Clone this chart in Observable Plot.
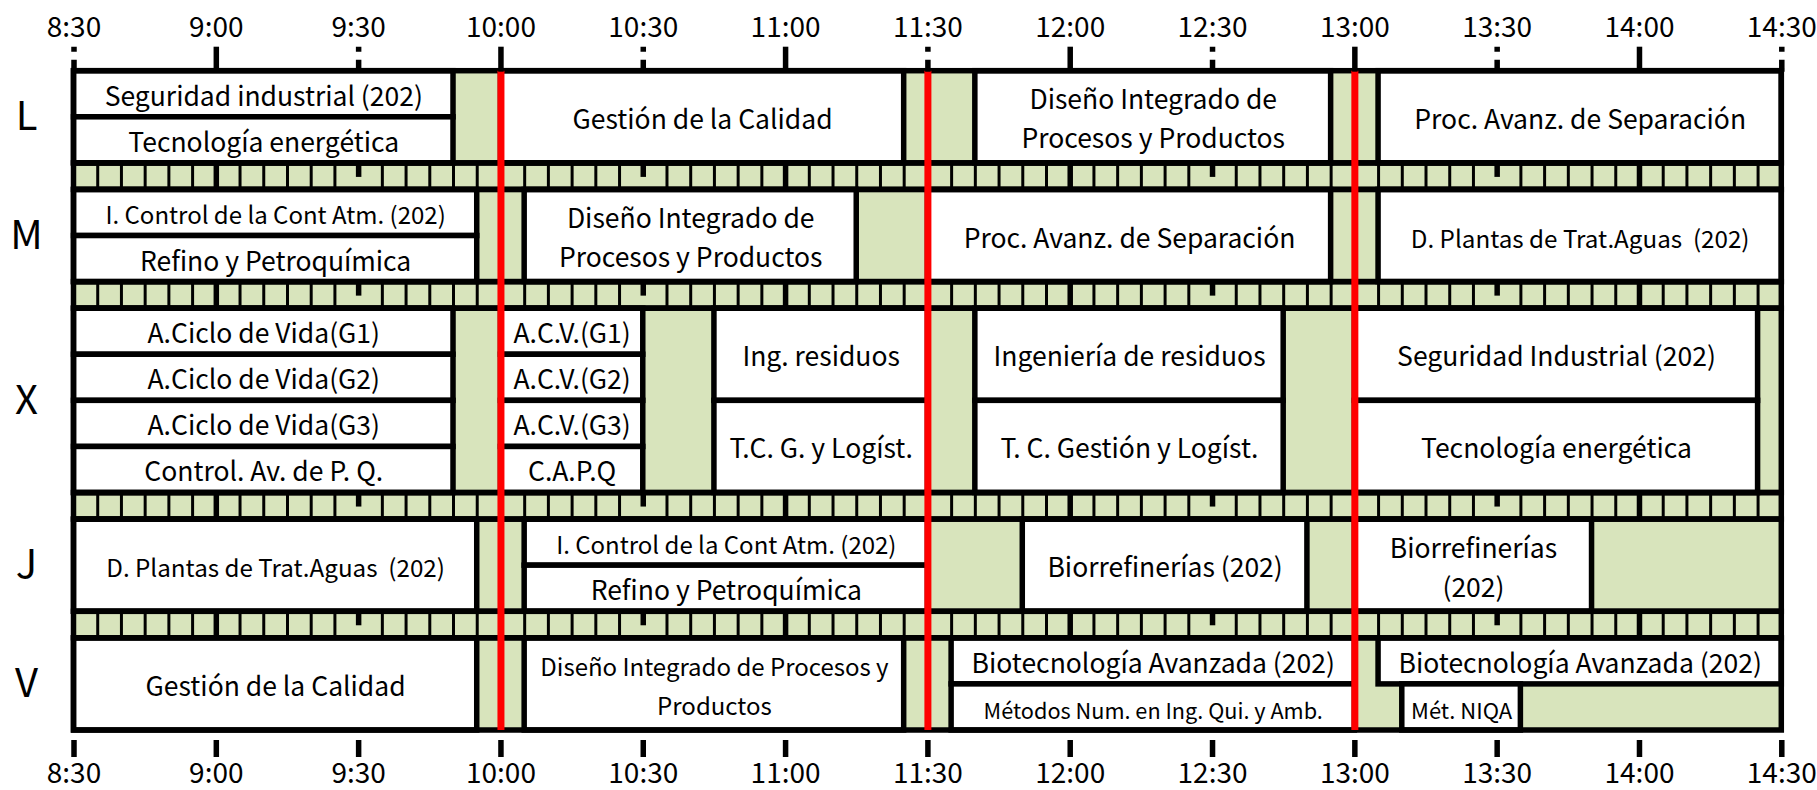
<!DOCTYPE html>
<html><head><meta charset="utf-8">
<script src="https://cdn.jsdelivr.net/npm/d3@7"></script>
<script src="https://cdn.jsdelivr.net/npm/@observablehq/plot@0.6"></script>
<style>
html,body{margin:0;padding:0;background:#fff;}
</style></head><body><div id="chart"></div>
<script>
// ---- data ----
const days = ["L", "M", "X", "J", "V"];
const daySlots = [2, 2, 4, 2, 2];
const tickTimes = ["8:30","9:00","9:30","10:00","10:30","11:00","11:30","12:00","12:30","13:00","13:30","14:00","14:30"];
const breakLines = ["10:00", "11:30", "13:00"];
// [start, end, first slot, slot count, label]
const lunes = [
  ["8:30", "9:50", 0, 1, "Seguridad industrial (202)"],
  ["8:30", "9:50", 1, 1, "Tecnología energética"],
  ["10:00", "11:25", 0, 2, "Gestión de la Calidad"],
  ["11:40", "12:55", 0, 2, "Diseño Integrado de\nProcesos y Productos"],
  ["13:05", "14:30", 0, 2, "Proc. Avanz. de Separación"]
];
const martes = [
  ["8:30", "9:55", 0, 1, "I. Control de la Cont Atm. (202)"],
  ["8:30", "9:55", 1, 1, "Refino y Petroquímica"],
  ["10:05", "11:15", 0, 2, "Diseño Integrado de\nProcesos y Productos"],
  ["11:30", "12:55", 0, 2, "Proc. Avanz. de Separación"],
  ["13:05", "14:30", 0, 2, "D. Plantas de Trat.Aguas  (202)"]
];
const miercoles = [
  ["8:30", "9:50", 0, 1, "A.Ciclo de Vida(G1)"],
  ["8:30", "9:50", 1, 1, "A.Ciclo de Vida(G2)"],
  ["8:30", "9:50", 2, 1, "A.Ciclo de Vida(G3)"],
  ["8:30", "9:50", 3, 1, "Control. Av. de P. Q."],
  ["10:00", "10:30", 0, 1, "A.C.V.(G1)"],
  ["10:00", "10:30", 1, 1, "A.C.V.(G2)"],
  ["10:00", "10:30", 2, 1, "A.C.V.(G3)"],
  ["10:00", "10:30", 3, 1, "C.A.P.Q"],
  ["10:45", "11:30", 0, 2, "Ing. residuos"],
  ["10:45", "11:30", 2, 2, "T.C. G. y Logíst."],
  ["11:40", "12:45", 0, 2, "Ingeniería de residuos"],
  ["11:40", "12:45", 2, 2, "T. C. Gestión y Logíst."],
  ["13:00", "14:25", 0, 2, "Seguridad Industrial (202)"],
  ["13:00", "14:25", 2, 2, "Tecnología energética"]
];
const jueves = [
  ["8:30", "9:55", 0, 2, "D. Plantas de Trat.Aguas  (202)"],
  ["10:05", "11:30", 0, 1, "I. Control de la Cont Atm. (202)"],
  ["10:05", "11:30", 1, 1, "Refino y Petroquímica"],
  ["11:50", "12:50", 0, 2, "Biorrefinerías (202)"],
  ["13:00", "13:50", 0, 2, "Biorrefinerías\n(202)"]
];
const viernes = [
  ["8:30", "9:55", 0, 2, "Gestión de la Calidad"],
  ["10:05", "11:25", 0, 2, "Diseño Integrado de Procesos y\nProductos"],
  ["11:35", "13:00", 0, 1, "Biotecnología Avanzada (202)"],
  ["11:35", "13:00", 1, 1, "Métodos Num. en Ing. Qui. y Amb."],
  ["13:05", "14:30", 0, 1, "Biotecnología Avanzada (202)"],
  ["13:10", "13:35", 1, 1, "Mét. NIQA"]
];
const schedule = [lunes, martes, miercoles, jueves, viernes];

// ---- styling / layout ----
const GREEN = "#d8e4bc";
const BAND = 0.575;           // height of the break band, in slot units
const LW = 5.5;               // border width
const labelSize = 26.5;
const LINE_PX = 39;           // distance between the two lines of a wrapped label
const labelSizes = {
  "I. Control de la Cont Atm. (202)": 24,
  "D. Plantas de Trat.Aguas  (202)": 24.2,
  "Diseño Integrado de Procesos y\nProductos": 24,
  "Métodos Num. en Ing. Qui. y Amb.": 21.7,
  "Mét. NIQA": 22
};

const toMin = s => { const [h, m] = s.split(":").map(Number); return h * 60 + m; };
const fmtMin = m => `${Math.floor(m / 60)}:${String(m % 60).padStart(2, "0")}`;
const tMin = toMin(tickTimes[0]), tMax = toMin(tickTimes[tickTimes.length - 1]);

const yOff = []; let acc = 0;
days.forEach((d, i) => { yOff.push(acc); acc += daySlots[i] + (i < days.length - 1 ? BAND : 0); });
const yMax = acc;

const dayRows = days.map((d, i) => ({day: d, x1: tMin, x2: tMax, y1: yOff[i], y2: yOff[i] + daySlots[i]}));
const bands = days.slice(0, -1).map((d, i) => ({x1: tMin, x2: tMax, y1: yOff[i] + daySlots[i], y2: yOff[i + 1]}));

const boxes = schedule.flatMap((rows, i) => rows.map(([s, e, k, n, label]) => ({
  x1: toMin(s), x2: toMin(e), y1: yOff[i] + k, y2: yOff[i] + k + n, label,
  size: labelSizes[label] ?? labelSize
})));

const bandLines = bands.flatMap(b => d3.range(tMin + 5, tMax, 5).map(m => ({
  m, y1: b.y1, y2: b.y2, kind: m % 60 === 0 ? "hour" : m % 30 === 0 ? "half" : "five"
})));

const ticks = tickTimes.map(toMin);
const hourTicks = ticks.filter(m => m % 60 === 0);
const halfTicks = ticks.filter(m => m % 60 !== 0);

const W = 1817, H = 790;
const textMarks = d3.groups(boxes, d => d.size).map(([size, group]) =>
  Plot.text(group, {
    x: d => (d.x1 + d.x2) / 2, y: d => (d.y1 + d.y2) / 2, text: "label",
    fontSize: size, lineHeight: LINE_PX / size, dy: -1, fill: "black"
  })
);

const chart = Plot.plot({
  width: W, height: H,
  marginTop: 70.7, marginBottom: 60, marginLeft: 73.5, marginRight: 35.7,
  x: {domain: [tMin, tMax]},
  y: {domain: [0, yMax], range: [70.7, 730], axis: null},
  style: {fontFamily: "'Noto Sans CJK SC', 'Noto Sans', sans-serif", color: "black", background: "white", overflow: "visible"},
  marks: [
    Plot.rect([{x1: tMin, x2: tMax, y1: 0, y2: yMax}], {x1: "x1", x2: "x2", y1: "y1", y2: "y2", fill: GREEN}),
    Plot.ruleX(bandLines.filter(d => d.kind === "five"), {x: "m", y1: "y1", y2: "y2", stroke: "black", strokeWidth: 3}),
    Plot.ruleX(bandLines.filter(d => d.kind === "hour"), {x: "m", y1: "y1", y2: "y2", stroke: "black", strokeWidth: LW}),
    Plot.ruleX(bandLines.filter(d => d.kind === "half"), {x: "m", y1: "y1", y2: "y2", stroke: "black", strokeWidth: LW, strokeDasharray: "14,40"}),
    Plot.rect(boxes, {x1: "x1", x2: "x2", y1: "y1", y2: "y2", fill: "white", stroke: "black", strokeWidth: LW}),
    Plot.rect(dayRows.concat(bands), {x1: "x1", x2: "x2", y1: "y1", y2: "y2", fill: "none", stroke: "black", strokeWidth: LW}),
    Plot.ruleX(breakLines.map(toMin), {y1: 0, y2: yMax, stroke: "#ff0000", strokeWidth: 7}),
    ...textMarks,
    Plot.text(dayRows, {x: tMin, y: d => (d.y1 + d.y2) / 2, text: "day", dx: -47.5, fontSize: 40, textAnchor: "middle", fill: "black"}),
    Plot.axisX({anchor: "top", ticks: hourTicks, tickFormat: fmtMin, tickSize: 25, tickPadding: 9.5, strokeWidth: LW, fontSize: 28, label: null}),
    Plot.axisX({anchor: "top", ticks: halfTicks, tickFormat: fmtMin, tickSize: 25, tickPadding: 9.5, strokeWidth: LW, strokeDasharray: "12,8", fontSize: 28, label: null}),
    Plot.axisX({anchor: "bottom", ticks: ticks, tickFormat: fmtMin, tickSize: 17, tickPadding: 6, dy: 10, strokeWidth: LW, fontSize: 28, label: null})
  ]
});
document.getElementById("chart").appendChild(chart);
</script></body></html>
